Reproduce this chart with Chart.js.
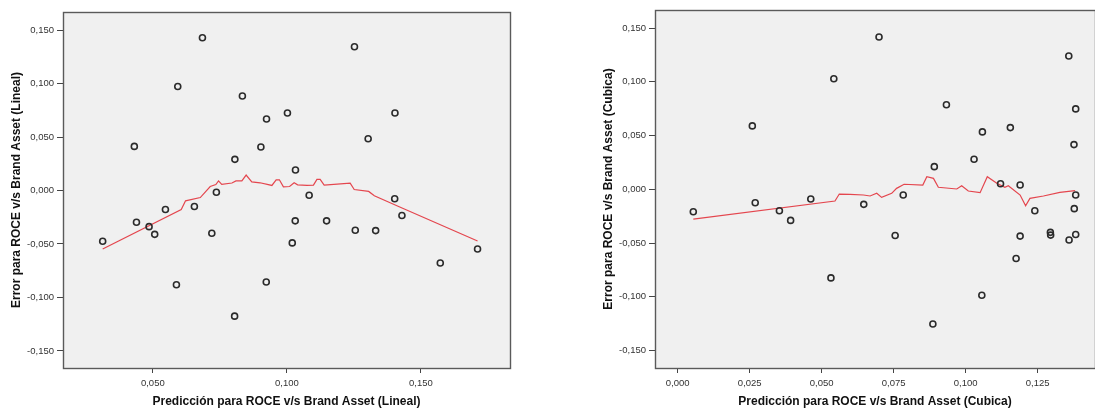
<!DOCTYPE html>
<html>
<head>
<meta charset="utf-8">
<script src="https://cdn.jsdelivr.net/npm/chart.js@4"></script>
<style>
  html, body { margin: 0; padding: 0; background: #fff; overflow: hidden; }
  .box { position: absolute; top: 0; height: 410px; }
  canvas { display: block; }
</style>
</head>
<body>
<div class="box" style="left:0;width:545px"><canvas id="lineal" width="545" height="410"></canvas></div>
<div class="box" style="left:545px;width:550px"><canvas id="cubica" width="550" height="410"></canvas></div>
<script>
"use strict";

// Lineal: predicted value vs residual
const linealPred = [0.0685, 0.0593, 0.0431, 0.0834, 0.0924, 0.0903, 0.0806, 0.0737, 0.0547, 0.0655,
    0.0313, 0.0439, 0.0486, 0.0507, 0.0720, 0.0588, 0.0805, 0.0923,
    0.1252, 0.1002, 0.1403, 0.1303, 0.1032, 0.1083, 0.1402,
    0.1031, 0.1148, 0.1255, 0.1331, 0.1429, 0.1020, 0.1711, 0.1572];
const linealError = [0.1428, 0.0972, 0.0412, 0.0884, 0.0669, 0.0406, 0.0291, -0.0016, -0.0178, -0.0150,
    -0.0475, -0.0297, -0.0338, -0.0410, -0.0400, -0.0881, -0.1175, -0.0856,
    0.1344, 0.0725, 0.0725, 0.0484, 0.0191, -0.0044, -0.0078,
    -0.0284, -0.0284, -0.0372, -0.0375, -0.0234, -0.0490, -0.0547, -0.0678];

// Lineal: smoothed fit line
const linealFitX = [0.0313, 0.0606, 0.0622, 0.0677, 0.0714, 0.0735, 0.0745, 0.0757, 0.0795, 0.0810,
    0.0832, 0.0848, 0.0869, 0.0900, 0.0944, 0.0960, 0.0972, 0.0987, 0.1010, 0.1027,
    0.1040, 0.1075, 0.1099, 0.1112, 0.1124, 0.1139, 0.1236, 0.1251, 0.1305, 0.1326,
    0.1423, 0.1711];
const linealFitY = [-0.0547, -0.0178, -0.0097, -0.0066, 0.0037, 0.0056, 0.0090, 0.0057, 0.0070, 0.0089,
    0.0089, 0.0144, 0.0081, 0.0072, 0.0047, 0.0100, 0.0100, 0.0034, 0.0037, 0.0072,
    0.0053, 0.0047, 0.0050, 0.0103, 0.0103, 0.0050, 0.0069, 0.0009, -0.0009, -0.0050,
    -0.0157, -0.0472];

// Cubica: predicted value vs residual
const cubicaPred = [0.0542, 0.0259, 0.0269, 0.0462, 0.0054, 0.0353, 0.0392, 0.0532,
    0.0699, 0.1358, 0.0933, 0.1382, 0.1058, 0.1155, 0.1376, 0.1029, 0.0891, 0.1121,
    0.1189, 0.0783, 0.0646, 0.1382, 0.1240, 0.1377,
    0.0755, 0.1189, 0.1294, 0.1295, 0.1359, 0.1382, 0.1175, 0.1056, 0.0886];
const cubicaError = [0.1028, 0.0590, -0.0125, -0.0090, -0.0209, -0.0200, -0.0289, -0.0824,
    0.1417, 0.1240, 0.0786, 0.0748, 0.0534, 0.0574, 0.0416, 0.0280, 0.0211, 0.0052,
    0.0040, -0.0053, -0.0140, -0.0053, -0.0200, -0.0180,
    -0.0429, -0.0435, -0.0400, -0.0426, -0.0472, -0.0420, -0.0643, -0.0985, -0.1253];

// Cubica: smoothed fit line
const cubicaFitX = [0.0054, 0.0546, 0.0561, 0.0598, 0.0645, 0.0668, 0.0691, 0.0708, 0.0743, 0.0760,
    0.0786, 0.0851, 0.0865, 0.0888, 0.0905, 0.0969, 0.0986, 0.1009, 0.1050, 0.1075,
    0.1108, 0.1136, 0.1148, 0.1189, 0.1208, 0.1223, 0.1270, 0.1327, 0.1380];
const cubicaFitY = [-0.0277, -0.0109, -0.0044, -0.0047, -0.0053, -0.0062, -0.0037, -0.0075, -0.0037, 0.0009,
    0.0047, 0.0040, 0.0117, 0.0102, 0.0019, 0.0003, 0.0034, -0.0016, -0.0031, 0.0117,
    0.0056, 0.0019, 0.0034, -0.0053, -0.0153, -0.0084, -0.0062, -0.0028, -0.0013];

// Tick labels
const yTicks = [-0.15, -0.1, -0.05, 0, 0.05, 0.1, 0.15];
const linealXTicks = [0.05, 0.1, 0.15];
const cubicaXTicks = [0, 0.025, 0.05, 0.075, 0.1, 0.125];

const FONT = "'Liberation Sans', Arial, sans-serif";
const fmt = v => v.toFixed(3).replace(".", ",");
const pairs = (xs, ys) => xs.map((x, i) => ({ x: x, y: ys[i] }));

const plotFrame = {
    id: "plotFrame",
    beforeDraw(chart) {
        const { ctx, chartArea: a } = chart;
        ctx.save();
        ctx.fillStyle = "#f0f0f0";
        ctx.fillRect(a.left, a.top, a.right - a.left, a.bottom - a.top);
        ctx.restore();
    },
    afterDraw(chart) {
        const { ctx, chartArea: a } = chart;
        ctx.save();
        ctx.strokeStyle = "#5a5a5a";
        ctx.lineWidth = 1.4;
        ctx.strokeRect(a.left + 0.5, a.top + 0.5, a.right - a.left, a.bottom - a.top);
        ctx.restore();
    },
};

function makeChart(id, o) {
    return new Chart(document.getElementById(id), {
        type: "scatter",
        data: {
            datasets: [
                {
                    data: pairs(o.px, o.py),
                    pointStyle: "circle",
                    pointRadius: 3,
                    borderWidth: 1.6,
                    borderColor: "#2b2b2b",
                    backgroundColor: "rgba(0,0,0,0)",
                    order: 1,
                },
                {
                    data: pairs(o.fx, o.fy),
                    showLine: true,
                    pointRadius: 0,
                    borderColor: "#e4464e",
                    borderWidth: 1.2,
                    order: 2,
                },
            ],
        },
        options: {
            responsive: false,
            animation: false,
            events: [],
            layout: { padding: o.pad, autoPadding: false },
            plugins: { legend: { display: false }, tooltip: { enabled: false } },
            scales: {
                x: {
                    type: "linear",
                    min: o.xmin,
                    max: o.xmax,
                    afterFit: s => { s.height = 42; s.paddingLeft = 0; s.paddingRight = 0; },
                    afterBuildTicks: s => { s.ticks = o.xticks.map(v => ({ value: v })); },
                    grid: { drawOnChartArea: false, tickLength: 5, color: "#444" },
                    border: { display: false },
                    ticks: { callback: v => fmt(v), color: "#333", padding: 5, font: { family: FONT, size: 9.5 } },
                    title: {
                        display: true,
                        text: o.xtitle,
                        color: "#111",
                        padding: { top: 0, bottom: 1 },
                        font: { family: FONT, size: 12, weight: "bold" },
                    },
                },
                y: {
                    type: "linear",
                    min: o.ymin,
                    max: o.ymax,
                    afterFit: s => { s.width = o.yw; s.paddingTop = 0; s.paddingBottom = 0; },
                    afterBuildTicks: s => { s.ticks = yTicks.map(v => ({ value: v })); },
                    grid: { drawOnChartArea: false, tickLength: 6, color: "#444" },
                    border: { display: false },
                    ticks: { callback: v => fmt(v), color: "#333", padding: 3, font: { family: FONT, size: 9.5 } },
                    title: {
                        display: true,
                        text: o.ytitle,
                        color: "#111",
                        padding: { top: o.ytp, bottom: 0 },
                        font: { family: FONT, size: 12, weight: "bold" },
                    },
                },
            },
        },
        plugins: [plotFrame],
    });
}

makeChart("lineal", {
    px: linealPred, py: linealError, fx: linealFitX, fy: linealFitY,
    xmin: 0.0165, xmax: 0.1832, ymin: -0.166, ymax: 0.1669,
    xticks: linealXTicks,
    pad: { left: 0, right: 35, top: 12, bottom: 0 }, yw: 63, ytp: 9.5,
    xtitle: "Predicción para ROCE v/s Brand Asset (Lineal)",
    ytitle: "Error para ROCE v/s Brand Asset (Lineal)",
});

makeChart("cubica", {
    px: cubicaPred, py: cubicaError, fx: cubicaFitX, fy: cubicaFitY,
    xmin: -0.0079, xmax: 0.1449, ymin: -0.1662, ymax: 0.1668,
    xticks: cubicaXTicks,
    pad: { left: 53, right: 0, top: 10, bottom: 0 }, yw: 57, ytp: 3.5,
    xtitle: "Predicción para ROCE v/s Brand Asset (Cubica)",
    ytitle: "Error para ROCE v/s Brand Asset (Cubica)",
});
</script>
</body>
</html>
